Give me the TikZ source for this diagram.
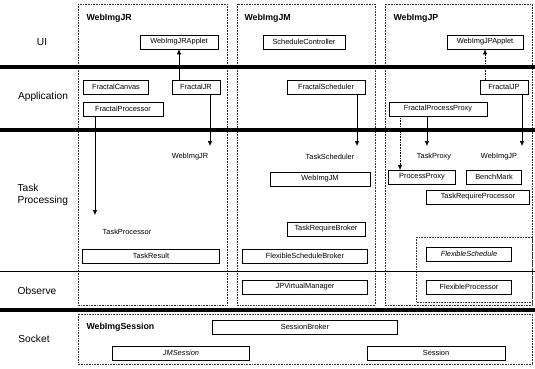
\documentclass[tikz,border=0pt]{standalone}
\usepackage{fontspec}
\setmainfont{Liberation Sans}
\usetikzlibrary{arrows.meta}
\usetikzlibrary{positioning}
\usetikzlibrary{shadows}
\tikzset{box/.style = {draw, line width=0.6, fill=white, inner sep=0, minimum height=14, font=\fontsize{7.4}{8}\selectfont, drop shadow={shadow xshift=0.7pt, shadow yshift=-0.7pt, opacity=1, fill=black}}}
\tikzset{lane/.style = {densely dotted, line width=0.6, black!80}}
\tikzset{bar/.style = {line width=3.5}}
\tikzset{arr/.style = {-{Latex[length=5, width=4.5]}, line width=0.6}}
\tikzset{tag/.style = {font=\fontsize{7.4}{8}\selectfont}}
\tikzset{head/.style = {anchor=west, font=\bfseries\fontsize{8.8}{10}\selectfont}}
\tikzset{row/.style = {align=left, font=\fontsize{10.2}{12}\selectfont}}

\begin{document}
\begin{tikzpicture}[x=1pt, y=-1pt]
      \useasboundingbox (0, 0) rectangle (535, 369);
      \draw [lane] (78, 4) rectangle (227, 305);
      \draw [lane] (237, 4) rectangle (375, 305);
      \draw [lane] (385, 4) rectangle (532, 305);
      \draw [lane] (416, 237) rectangle (532, 302);
      \draw [lane] (78, 314) rectangle (532, 364);

      \draw [bar] (0, 67) -- (535, 67);
      \draw [bar] (0, 130) -- (535, 130);
      \draw [bar] (0, 310) -- (535, 310);
      \draw [line width=0.7] (0, 271) -- (535, 271);

      \node [row] (ui) at (42, 42) {UI};
      \node [row] (app) at (43, 97) {Application};
      \node [row, anchor=west] (tp) at (14, 195) {Task\\Processing};
      \node [row] (obs) at (37, 291) {Observe};
      \node [row] (sock) at (34, 339) {Socket};

      \node [head] (jr) at (83, 18) {WebImgJR};
      \node [head] (jm) at (241, 18) {WebImgJM};
      \node [head] (jp) at (390, 18) {WebImgJP};
      \node [head] (ses) at (83, 327) {WebImgSession};

      \node [box, minimum width=78] (applr) at (179, 42) {WebImgJRApplet};
      \node [box, minimum width=82] (ctrl) at (304, 42) {ScheduleController};
      \node [box, minimum width=76] (applp) at (485, 42) {WebImgJPApplet};

      \node [box, minimum width=65] (canvas) at (116, 87) {FractalCanvas};
      \node [box, minimum width=48] (fjr) at (196, 87) {FractalJR};
      \node [box, minimum width=80] (fproc) at (123, 109) {FractalProcessor};
      \node [box, minimum width=78] (fsched) at (326, 87) {FractalScheduler};
      \node [box, minimum width=48] (fjp) at (504, 87) {FractalJP};
      \node [box, minimum width=98] (fproxy) at (438, 109) {FractalProcessProxy};

      \node [tag] (ljr) at (190, 157) {WebImgJR};
      \node [tag] (lsched) at (330, 157) {TaskScheduler};
      \node [tag] (lproxy) at (434, 157) {TaskProxy};
      \node [tag] (ljp) at (499, 157) {WebImgJP};
      \node [tag] (lproc) at (127, 232) {TaskProcessor};

      \node [box, minimum width=100] (wjm) at (320, 179) {WebImgJM};
      \node [box, minimum width=78] (broker) at (326, 229) {TaskRequireBroker};
      \node [box, minimum width=125] (fbroker) at (305, 256) {FlexibleScheduleBroker};
      \node [box, minimum width=137] (result) at (151, 256) {TaskResult};
      \node [box, minimum width=67] (pproxy) at (422, 177) {ProcessProxy};
      \node [box, minimum width=55] (bench) at (494, 177) {BenchMark};
      \node [box, minimum width=103] (rproc) at (478, 197) {TaskRequireProcessor};
      \node [box, minimum width=85] (fsch) at (469, 254) {\itshape FlexibleSchedule};

      \node [box, minimum width=125] (jpvm) at (305, 287) {JPVirtualManager};
      \node [box, minimum width=85] (fprc) at (469, 287) {FlexibleProcessor};

      \node [box, minimum width=185] (sbroker) at (305, 327) {SessionBroker};
      \node [box, minimum width=137] (jms) at (181, 353) {\itshape JMSession};
      \node [box, minimum width=138] (sess) at (436, 353) {Session};

      \coordinate (pin) at (95, 215);
      \coordinate (a1) at (210, 146);
      \coordinate (a2) at (357, 146);
      \coordinate (a3) at (427, 146);
      \coordinate (a4) at (522, 146);
      \coordinate (a5) at (400, 170);

      \draw [arr] (applr.south |- fjr.north) -- (applr.south);
      \draw [arr, densely dotted] (applp.south |- fjp.north) -- (applp.south);
      \draw [arr] (fproc.south -| pin) -- (pin);
      \draw [arr] (fjr.south -| a1) -- (a1);
      \draw [arr] (fsched.south -| a2) -- (a2);
      \draw [arr] (fproxy.south -| a3) -- (a3);
      \draw [arr] (fjp.south -| a4) -- (a4);
      \draw [arr, densely dotted] (fproxy.south -| a5) -- (a5);
    \end{tikzpicture}
\end{document}
